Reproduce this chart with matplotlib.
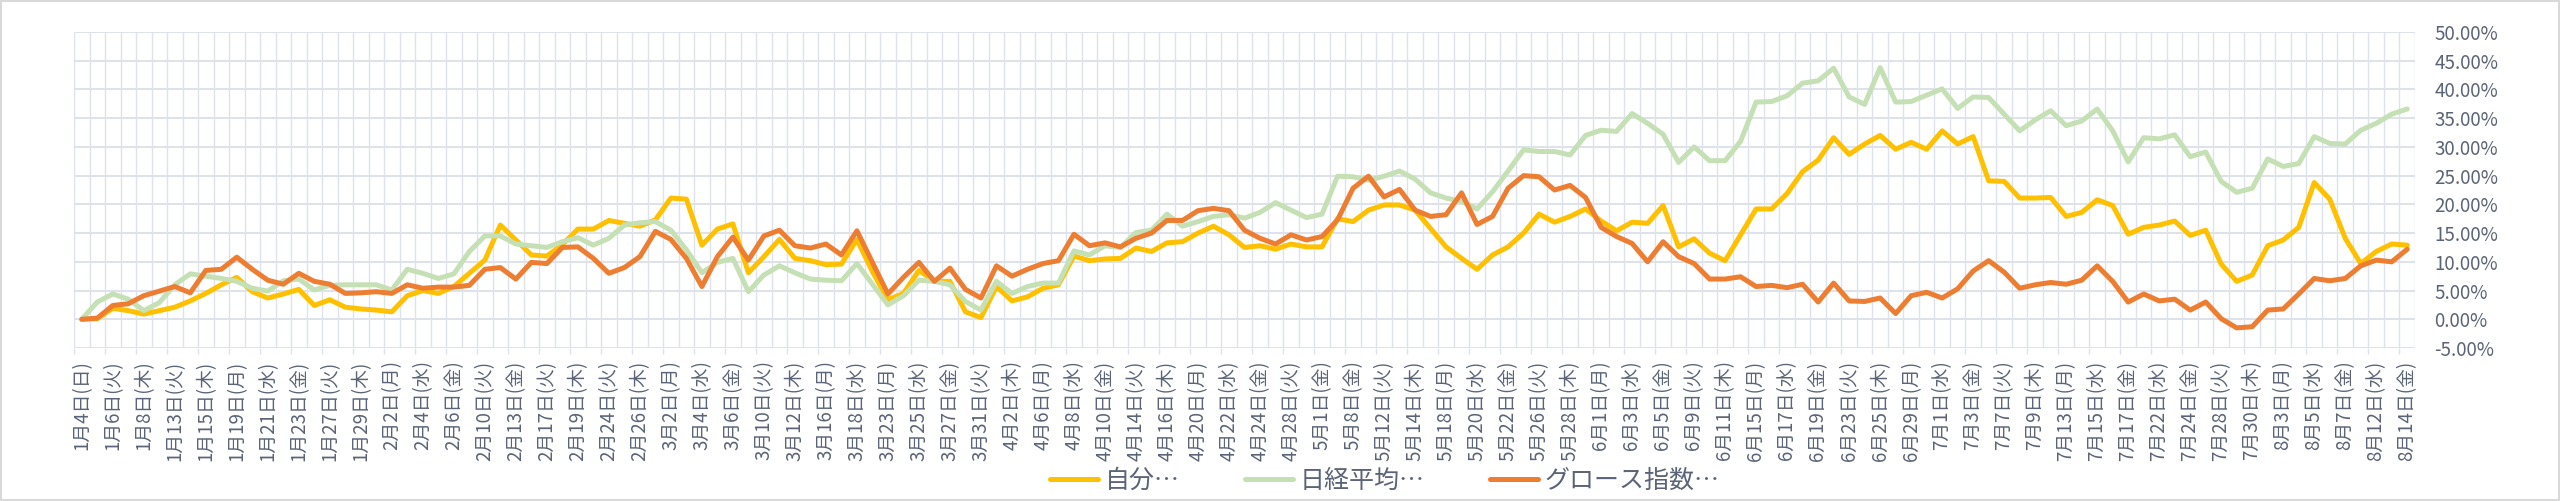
import matplotlib
matplotlib.use("Agg")
import matplotlib.pyplot as plt
from matplotlib.patches import Rectangle
from matplotlib.ticker import FixedLocator, FuncFormatter

plt.rcParams['font.family'] = ['Noto Sans CJK JP', 'DejaVu Sans']

# ---- data ----
categories = [
    "1月4日(日)", "1月5日(月)", "1月6日(火)", "1月7日(水)", "1月8日(木)", "1月9日(金)",
    "1月13日(火)", "1月14日(水)", "1月15日(木)", "1月16日(金)", "1月19日(月)", "1月20日(火)",
    "1月21日(水)", "1月22日(木)", "1月23日(金)", "1月26日(月)", "1月27日(火)", "1月28日(水)",
    "1月29日(木)", "1月30日(金)", "2月2日(月)", "2月3日(火)", "2月4日(水)", "2月5日(木)",
    "2月6日(金)", "2月9日(月)", "2月10日(火)", "2月12日(木)", "2月13日(金)", "2月16日(月)",
    "2月17日(火)", "2月18日(水)", "2月19日(木)", "2月20日(金)", "2月24日(火)", "2月25日(水)",
    "2月26日(木)", "2月27日(金)", "3月2日(月)", "3月3日(火)", "3月4日(水)", "3月5日(木)",
    "3月6日(金)", "3月9日(月)", "3月10日(火)", "3月11日(水)", "3月12日(木)", "3月13日(金)",
    "3月16日(月)", "3月17日(火)", "3月18日(水)", "3月19日(木)", "3月23日(月)", "3月24日(火)",
    "3月25日(水)", "3月26日(木)", "3月27日(金)", "3月30日(月)", "3月31日(火)", "4月1日(水)",
    "4月2日(木)", "4月3日(金)", "4月6日(月)", "4月7日(火)", "4月8日(水)", "4月9日(木)",
    "4月10日(金)", "4月13日(月)", "4月14日(火)", "4月15日(水)", "4月16日(木)", "4月17日(金)",
    "4月20日(月)", "4月21日(火)", "4月22日(水)", "4月23日(木)", "4月24日(金)", "4月27日(月)",
    "4月28日(火)", "4月30日(木)", "5月1日(金)", "5月7日(木)", "5月8日(金)", "5月11日(月)",
    "5月12日(火)", "5月13日(水)", "5月14日(木)", "5月15日(金)", "5月18日(月)", "5月19日(火)",
    "5月20日(水)", "5月21日(木)", "5月22日(金)", "5月25日(月)", "5月26日(火)", "5月27日(水)",
    "5月28日(木)", "5月29日(金)", "6月1日(月)", "6月2日(火)", "6月3日(水)", "6月4日(木)",
    "6月5日(金)", "6月8日(月)", "6月9日(火)", "6月10日(水)", "6月11日(木)", "6月12日(金)",
    "6月15日(月)", "6月16日(火)", "6月17日(水)", "6月18日(木)", "6月19日(金)", "6月22日(月)",
    "6月23日(火)", "6月24日(水)", "6月25日(木)", "6月26日(金)", "6月29日(月)", "6月30日(火)",
    "7月1日(水)", "7月2日(木)", "7月3日(金)", "7月6日(月)", "7月7日(火)", "7月8日(水)",
    "7月9日(木)", "7月10日(金)", "7月13日(月)", "7月14日(火)", "7月15日(水)", "7月16日(木)",
    "7月17日(金)", "7月21日(火)", "7月22日(水)", "7月23日(木)", "7月24日(金)", "7月27日(月)",
    "7月28日(火)", "7月29日(水)", "7月30日(木)", "7月31日(金)", "8月3日(月)", "8月4日(火)",
    "8月5日(水)", "8月6日(木)", "8月7日(金)", "8月11日(火)", "8月12日(水)", "8月13日(木)",
    "8月14日(金)",
]

series_names = ["自分…", "日経平均…", "グロース指数…"]

jibun = [
    0.0, 0.1, 1.9, 1.5, 0.9, 1.5, 2.1, 3.2, 4.5, 6.0,
    7.3, 4.8, 3.7, 4.4, 5.2, 2.4, 3.4, 2.1, 1.8, 1.6,
    1.3, 4.1, 5.0, 4.5, 5.7, 8.0, 10.3, 16.4, 13.8, 11.2,
    11.0, 13.0, 15.7, 15.7, 17.2, 16.7, 16.2, 17.3, 21.1, 20.9,
    12.9, 15.7, 16.6, 8.1, 10.9, 13.9, 10.6, 10.2, 9.5, 9.6,
    13.9, 8.3, 3.4, 4.5, 8.5, 6.6, 6.6, 1.3, 0.3, 5.7,
    3.2, 3.9, 5.4, 6.0, 11.0, 10.2, 10.5, 10.6, 12.4, 11.8,
    13.3, 13.5, 15.0, 16.2, 14.7, 12.5, 12.8, 12.2, 13.1, 12.6,
    12.6, 17.5, 17.0, 19.0, 19.9, 19.9, 19.0, 15.8, 12.6, 10.6,
    8.7, 11.2, 12.6, 15.0, 18.3, 16.9, 17.9, 19.2, 17.1, 15.4,
    16.9, 16.7, 19.8, 12.6, 14.0, 11.5, 10.2, 14.7, 19.2, 19.2,
    21.9, 25.7, 27.7, 31.6, 28.7, 30.5, 32.0, 29.6, 30.8, 29.6,
    32.8, 30.5, 31.8, 24.1, 24.0, 21.1, 21.1, 21.2, 17.9, 18.6,
    20.8, 19.8, 14.8, 16.0, 16.4, 17.1, 14.6, 15.5, 9.6, 6.6,
    7.7, 12.8, 13.8, 16.0, 23.8, 20.9, 14.1, 9.7, 11.8, 13.1,
    12.9,
]

nikkei = [
    0.0, 3.0, 4.4, 3.5, 1.5, 2.9, 6.0, 7.9, 7.5, 7.1,
    6.6, 5.4, 4.9, 6.7, 7.0, 5.1, 5.9, 6.0, 6.0, 6.0,
    5.1, 8.7, 8.0, 7.1, 7.9, 11.8, 14.5, 14.5, 13.1, 12.8,
    12.5, 13.5, 14.2, 12.9, 14.1, 16.4, 16.8, 17.0, 15.5, 12.1,
    8.1, 9.9, 10.6, 4.8, 7.7, 9.3, 8.1, 7.0, 6.8, 6.7,
    9.7, 6.1, 2.5, 4.1, 6.8, 6.6, 6.0, 3.1, 1.6, 6.6,
    4.5, 5.7, 6.3, 6.3, 11.9, 11.2, 12.8, 12.5, 15.1, 15.5,
    18.3, 16.2, 17.0, 17.9, 18.2, 17.6, 18.6, 20.3, 19.0, 17.7,
    18.3, 24.9, 24.8, 24.2, 24.9, 25.8, 24.4, 22.0, 21.1, 20.5,
    19.2, 22.2, 25.8, 29.5, 29.2, 29.2, 28.6, 32.0, 32.9, 32.7,
    35.8, 34.1, 32.2, 27.3, 30.0, 27.6, 27.6, 31.0, 37.8, 37.9,
    38.9, 41.1, 41.5, 43.7, 38.7, 37.4, 43.8, 37.8, 37.9, 39.0,
    40.1, 36.7, 38.7, 38.6, 35.7, 32.8, 34.7, 36.3, 33.7, 34.5,
    36.6, 32.8, 27.4, 31.6, 31.4, 32.1, 28.3, 29.1, 24.0, 22.1,
    22.8, 27.9, 26.6, 27.1, 31.8, 30.6, 30.5, 32.9, 34.1, 35.7,
    36.6,
]

growth = [
    0.0, 0.2, 2.4, 2.7, 4.1, 4.9, 5.7, 4.6, 8.5, 8.7,
    10.8, 8.7, 6.8, 6.1, 8.0, 6.6, 6.1, 4.5, 4.6, 4.8,
    4.5, 6.0, 5.4, 5.6, 5.6, 5.9, 8.7, 9.0, 7.0, 9.9,
    9.7, 12.5, 12.6, 10.6, 8.0, 9.0, 10.9, 15.3, 13.9, 10.6,
    5.7, 10.9, 14.3, 10.3, 14.5, 15.5, 12.8, 12.4, 13.1, 11.2,
    15.4, 9.9, 4.4, 7.3, 9.9, 6.6, 8.9, 5.2, 3.7, 9.3,
    7.5, 8.7, 9.7, 10.2, 14.8, 12.8, 13.3, 12.6, 14.1, 15.0,
    17.2, 17.2, 18.9, 19.3, 18.9, 15.5, 14.1, 13.1, 14.7, 13.8,
    14.4, 17.3, 22.8, 24.9, 21.3, 22.6, 19.0, 17.9, 18.2, 22.0,
    16.5, 17.9, 22.8, 25.0, 24.8, 22.5, 23.3, 21.2, 16.0, 14.4,
    13.2, 10.0, 13.5, 10.9, 9.7, 7.0, 7.0, 7.4, 5.7, 5.9,
    5.5, 6.1, 3.0, 6.3, 3.2, 3.1, 3.7, 1.0, 4.1, 4.7,
    3.7, 5.3, 8.4, 10.2, 8.2, 5.4, 6.0, 6.4, 6.1, 6.8,
    9.3, 6.6, 3.0, 4.4, 3.2, 3.5, 1.6, 3.0, 0.1, -1.5,
    -1.3, 1.6, 1.8, 4.4, 7.1, 6.7, 7.1, 9.3, 10.3, 10.0,
    12.2,
]

y_ticks = [-5, 0, 5, 10, 15, 20, 25, 30, 35, 40, 45, 50]
tick_labels = categories[::2]

assert len(categories) == len(jibun) == len(nikkei) == len(growth)

# ---- styling ----
colors = ["#FFC000", "#C5E0B4", "#ED7D31"]
grid_c = "#DDE2EB"
text_c = "#5A6476"

W, H, DPI = 2560, 501, 100
fig = plt.figure(figsize=(W / DPI, H / DPI), dpi=DPI)
fig.patch.set_facecolor("white")
ax = fig.add_axes([74 / W, 1 - 348 / H, (2415 - 74) / W, (348 - 32) / H])
ax.set_facecolor("white")

x = list(range(len(categories)))
for vals, name, c in zip([jibun, nikkei, growth], series_names, colors):
    ax.plot(x, vals, color=c, lw=3.6, label=name,
            solid_joinstyle="round", solid_capstyle="round", zorder=3)

n = len(categories)
ax.set_xlim(-0.5, n - 0.5)
ax.set_ylim(y_ticks[0], y_ticks[-1])

# vertical gridlines at category boundaries
for b in range(n + 1):
    ax.axvline(b - 0.5, color=grid_c, lw=1.0, zorder=1)
# horizontal gridlines
for v in y_ticks:
    ax.axhline(v, color=grid_c, lw=1.4, zorder=1)

ax.xaxis.set_major_locator(FixedLocator(x[::2]))
ax.set_xticklabels(tick_labels, rotation=90, fontsize=13.5, color=text_c,
                   ha="center", va="top")
ax.tick_params(axis="x", which="major", length=0, pad=9)
ax.xaxis.set_minor_locator(FixedLocator([i - 0.5 for i in range(0, n + 1, 2)]))
ax.tick_params(axis="x", which="minor", length=4, width=1.0, color=grid_c)

ax.yaxis.tick_right()
ax.yaxis.set_major_locator(FixedLocator(y_ticks))
ax.yaxis.set_major_formatter(FuncFormatter(lambda v, p: f"{v:.2f}%"))
ax.tick_params(axis="y", length=0, pad=14, labelsize=13.5, labelcolor=text_c)

for s in ax.spines.values():
    s.set_visible(False)

leg = fig.legend(loc="center", bbox_to_anchor=(1385 / W, 1 - 481 / H), ncol=3,
                 frameon=False, fontsize=18, handlelength=1.9, handletextpad=0.3,
                 columnspacing=2.6, borderpad=0)
for t in leg.get_texts():
    t.set_color(text_c)
for h in leg.get_lines():
    h.set_linewidth(3.6)

fig.patches.append(Rectangle((0.0005, 0.001), 0.999, 0.998, transform=fig.transFigure,
                             fill=False, edgecolor="#D9D9D9", lw=1.5))

fig.savefig("out.png", dpi=DPI, facecolor="white")
